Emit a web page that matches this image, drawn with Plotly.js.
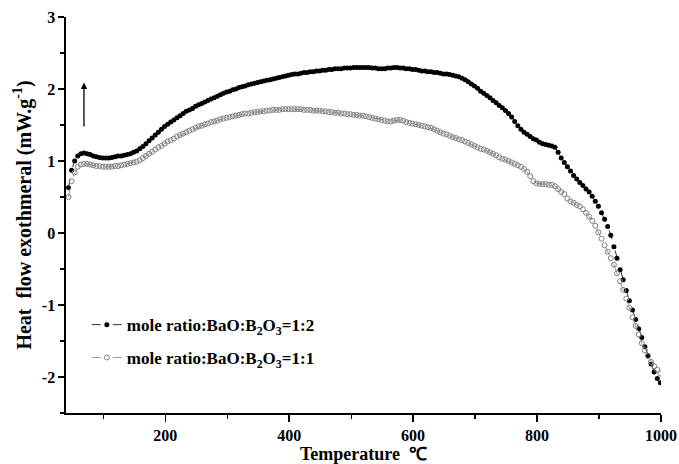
<!DOCTYPE html>
<html>
<head>
<meta charset="utf-8">
<script src="https://cdn.plot.ly/plotly-3.0.1.min.js"></script>
<style>html,body{margin:0;padding:0;background:#fff;}#chart{width:679px;height:464px;}</style>
</head>
<body>
<div id="chart"></div>
<script>
const temperature = [44,49,54,59,64,69,74,79,84,89,
94,99,104,109,114,119,124,129,134,139,
144,149,154,159,164,169,174,179,184,189,
194,199,204,209,214,219,224,229,234,239,
244,249,254,259,264,269,274,279,284,289,
294,299,304,309,314,319,324,329,334,339,
344,349,354,359,364,369,374,379,384,389,
394,399,404,409,414,419,424,429,434,439,
444,449,454,459,464,469,474,479,484,489,
494,499,504,509,514,519,524,529,534,539,
544,549,554,559,564,569,574,579,584,589,
594,599,604,609,614,619,624,629,634,639,
644,649,654,659,664,669,674,679,684,689,
694,699,704,709,714,719,724,729,734,739,
744,749,754,759,764,769,774,779,784,789,
794,799,804,809,814,819,824,829,834,839,
844,849,854,859,864,869,874,879,884,889,
894,899,904,909,914,919,924,929,934,939,
944,949,954,959,964,969,974,979,984,989,
994,999];

const heatFlow_1_2 = [0.63,0.87,1.00,1.07,1.10,1.11,1.10,1.09,1.07,1.06,
1.05,1.04,1.04,1.04,1.05,1.06,1.07,1.07,1.08,1.09,
1.10,1.12,1.14,1.17,1.20,1.24,1.28,1.32,1.36,1.40,
1.44,1.48,1.51,1.54,1.57,1.60,1.63,1.66,1.69,1.71,
1.73,1.76,1.78,1.80,1.82,1.84,1.86,1.88,1.90,1.92,
1.94,1.96,1.97,1.99,2.00,2.02,2.03,2.04,2.06,2.07,
2.08,2.09,2.10,2.11,2.12,2.13,2.14,2.15,2.16,2.17,
2.18,2.19,2.20,2.21,2.21,2.22,2.23,2.23,2.24,2.24,
2.25,2.25,2.26,2.26,2.27,2.27,2.28,2.28,2.28,2.29,
2.29,2.29,2.30,2.30,2.30,2.30,2.30,2.30,2.29,2.29,
2.28,2.28,2.28,2.29,2.29,2.30,2.30,2.29,2.29,2.28,
2.28,2.27,2.27,2.26,2.25,2.25,2.24,2.24,2.23,2.23,
2.22,2.21,2.21,2.20,2.19,2.18,2.17,2.15,2.13,2.10,
2.07,2.04,2.01,1.97,1.94,1.91,1.88,1.84,1.81,1.77,
1.74,1.70,1.66,1.61,1.55,1.49,1.44,1.40,1.37,1.34,
1.31,1.29,1.26,1.24,1.23,1.22,1.21,1.19,1.12,1.04,
0.98,0.92,0.86,0.80,0.75,0.70,0.66,0.61,0.57,0.51,
0.44,0.37,0.28,0.19,0.09,-0.03,-0.19,-0.35,-0.51,-0.65,
-0.80,-0.94,-1.07,-1.20,-1.33,-1.45,-1.58,-1.70,-1.82,-1.93,
-2.02,-2.08];

const heatFlow_1_1 = [0.50,0.72,0.84,0.92,0.95,0.96,0.96,0.95,0.94,0.93,
0.93,0.92,0.92,0.92,0.92,0.93,0.93,0.94,0.95,0.96,
0.97,0.98,0.99,1.01,1.04,1.07,1.10,1.13,1.16,1.19,
1.21,1.24,1.27,1.29,1.31,1.34,1.36,1.38,1.40,1.42,
1.44,1.46,1.48,1.49,1.51,1.52,1.54,1.55,1.56,1.58,
1.59,1.60,1.61,1.62,1.63,1.64,1.65,1.66,1.66,1.67,
1.68,1.68,1.69,1.69,1.70,1.70,1.71,1.71,1.71,1.72,
1.72,1.72,1.72,1.72,1.72,1.72,1.71,1.71,1.71,1.70,
1.70,1.70,1.69,1.69,1.68,1.68,1.67,1.67,1.66,1.66,
1.65,1.65,1.64,1.64,1.63,1.63,1.62,1.61,1.60,1.59,
1.58,1.57,1.56,1.55,1.55,1.56,1.57,1.57,1.56,1.54,
1.53,1.52,1.51,1.50,1.49,1.48,1.47,1.46,1.44,1.42,
1.40,1.38,1.37,1.35,1.33,1.32,1.30,1.29,1.27,1.25,
1.23,1.21,1.19,1.17,1.16,1.14,1.12,1.10,1.08,1.05,
1.03,1.02,1.00,0.98,0.96,0.94,0.92,0.89,0.85,0.79,
0.72,0.69,0.68,0.68,0.68,0.67,0.67,0.65,0.61,0.57,
0.54,0.48,0.44,0.42,0.39,0.37,0.33,0.28,0.23,0.17,
0.10,0.01,-0.08,-0.17,-0.26,-0.35,-0.44,-0.56,-0.67,-0.79,
-0.91,-1.04,-1.17,-1.29,-1.41,-1.53,-1.63,-1.71,-1.79,-1.85,
-1.90,-1.95];

const seriesNames = ["mole ratio:BaO:B<sub>2</sub>O<sub>3</sub>=1:2", "mole ratio:BaO:B<sub>2</sub>O<sub>3</sub>=1:1"];
const xTickVals = [200, 400, 600, 800, 1000];
const yTickVals = [-2, -1, 0, 1, 2, 3];

const FONT = '"Liberation Serif", "Times New Roman", serif';

const traces = [
  {
    x: temperature, y: heatFlow_1_2, name: seriesNames[0], type: 'scatter', mode: 'lines+markers',
    line: {color: '#333', width: 1, dash: '9px,12px,9px'},
    marker: {symbol: 'circle', size: 5, color: '#000'},
    legend: 'legend'
  },
  {
    x: temperature, y: heatFlow_1_1, name: seriesNames[1], type: 'scatter', mode: 'lines+markers',
    line: {color: '#999', width: 1, dash: '9px,12px,9px'},
    marker: {symbol: 'circle-open', size: 5, color: '#808080', line: {width: 1}},
    legend: 'legend2'
  }
];

const tickFont = {family: FONT, size: 16, color: '#000', weight: 'bold'};
const xTitleFont = {family: FONT, size: 18, color: '#000', weight: 'bold'};
const yTitleFont = {family: FONT, size: 20, color: '#000', weight: 'bold'};
const legendFont = {family: FONT, size: 17, color: '#000', weight: 'bold'};

const layout = {
  width: 679, height: 464,
  margin: {l: 66, r: 18, t: 17, b: 51},
  paper_bgcolor: '#fff', plot_bgcolor: '#fff',
  font: {family: FONT, weight: 'bold'},
  showlegend: true,
  xaxis: {
    range: [40, 1000], tickvals: xTickVals, ticktext: xTickVals.map(String),
    ticks: 'outside', ticklen: 7, tickwidth: 1.3, tickcolor: '#000',
    minor: {tickvals: [100, 300, 500, 700, 900], ticks: 'outside', ticklen: 4, tickwidth: 1.2, tickcolor: '#000'},
    showline: true, linecolor: '#000', linewidth: 1.6, showgrid: false, zeroline: false,
    tickfont: tickFont,
    title: {text: 'Temperature  \u2103', font: xTitleFont, standoff: 0},
    automargin: false
  },
  yaxis: {
    range: [-2.5, 3], tickvals: yTickVals, ticktext: yTickVals.map(String),
    ticks: 'outside', ticklen: 6, tickwidth: 1.3, tickcolor: '#000',
    minor: {tickvals: [-2.5, -1.5, -0.5, 0.5, 1.5, 2.5], ticks: 'outside', ticklen: 4, tickwidth: 1.2, tickcolor: '#000'},
    showline: true, linecolor: '#000', linewidth: 1.6, showgrid: false, zeroline: false,
    tickfont: tickFont,
    title: {text: 'Heat\u00a0 flow exothmeral (mW.g<sup>-1</sup>)', font: yTitleFont, standoff: 5},
    automargin: false
  },
  xaxis2: {
    overlaying: 'x', side: 'top', anchor: 'y', range: [40, 1000],
    tick0: 40, dtick: 96, ticks: 'inside', ticklen: 5, tickwidth: 1.2, tickcolor: '#000',
    showticklabels: false, showline: true, linecolor: '#000', linewidth: 1.6, showgrid: false, zeroline: false
  },
  yaxis2: {
    overlaying: 'y', side: 'right', anchor: 'x', range: [-2.5, 3],
    tick0: -2.5, dtick: 0.55, ticks: 'inside', ticklen: 5, tickwidth: 1.2, tickcolor: '#000',
    showticklabels: false, showline: true, linecolor: '#000', linewidth: 1.6, showgrid: false, zeroline: false
  },
  legend: {
    x: 0.035, y: 0.222, xanchor: 'left', yanchor: 'middle',
    bgcolor: 'rgba(0,0,0,0)', borderwidth: 0, font: legendFont
  },
  legend2: {
    x: 0.035, y: 0.139, xanchor: 'left', yanchor: 'middle',
    bgcolor: 'rgba(0,0,0,0)', borderwidth: 0, font: legendFont
  },
  annotations: [{
    x: 69, y: 2.09, ax: 69, ay: 1.46, xref: 'x', yref: 'y', axref: 'x', ayref: 'y',
    text: '', showarrow: true, arrowhead: 2, arrowsize: 1, arrowwidth: 1.3, arrowcolor: '#000'
  }]
};

Plotly.newPlot('chart', traces, layout, {staticPlot: true, displayModeBar: false});
</script>
</body>
</html>
